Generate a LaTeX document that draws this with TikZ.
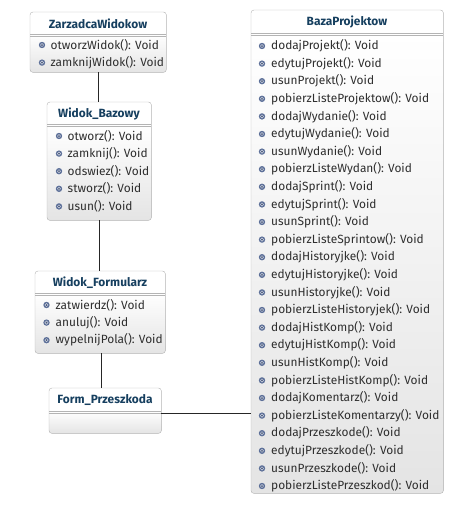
\documentclass[tikz,border=0pt]{standalone}
\usepackage{fontspec}
\setmainfont{Fira Sans}
\definecolor{boxgray}{HTML}{B4B4B4}
\definecolor{boxfill}{HTML}{E4E4E4}
\definecolor{titleblue}{HTML}{163F5F}
\definecolor{optext}{HTML}{2E2E2E}
\definecolor{iconblue}{HTML}{5C6F98}

\begin{document}
\begin{tikzpicture}[x=1pt, y=-1pt, every node/.style={font=\fontsize{11.9}{13}\selectfont},
    classbox/.style={anchor=north west, inner sep=0pt, fill=white},
    classname/.style={text=titleblue, font=\fontsize{11.9}{13}\selectfont\bfseries},
    op/.style={anchor=west, inner sep=0pt, text=optext},
    link/.style={draw=black!85, line width=0.8pt}]
  \useasboundingbox (0,0) rectangle (454,507);
  % class boxes: name/left/top/width/height/divider
  \foreach \id/\xa/\ya/\w/\h/\yd/\t in {
      zw/30/12/136/60/34/ZarzadcaWidokow,
      wb/47/102/104/118/124/Widok\_Bazowy,
      wf/35/271/130/82/293/Widok\_Formularz,
      fp/49/388/112/45/411/Form\_Przeszkoda,
      bp/251/10/192/483/33/BazaProjektow} {
    \node[classbox, minimum width=\w, minimum height=\h] (\id) at (\xa,\ya) {};
    \begin{scope}
      \clip[rounded corners=3pt] (\id.north west) rectangle (\id.south east);
      \shade[top color=white, bottom color=boxfill] (\xa,\yd) rectangle (\id.south east);
    \end{scope}
    \draw[boxgray] (\xa,\yd) -- ++(\w,0);
    \draw[boxgray] (\xa,\yd+2) -- ++(\w,0);
    \draw[boxgray, rounded corners=3pt] (\id.north west) rectangle (\id.south east);
    \node[classname] at ({\xa+\w/2},{(\ya+\yd)/2+0.5}) {\t};
  }
  % operations
  \foreach \op [count=\i] in {otworzWidok, zamknijWidok}
    \node[op] at (50.5,{45+17.6*(\i-1)}) {\op(): Void};
  \foreach \op [count=\i] in {otworz, zamknij, odswiez, stworz, usun}
    \node[op] at (67.5,{136+17.6*(\i-1)}) {\op(): Void};
  \foreach \op [count=\i] in {zatwierdz, anuluj, wypelnijPola}
    \node[op] at (55.5,{305+17.6*(\i-1)}) {\op(): Void};
  \foreach \op [count=\i] in {dodajProjekt, edytujProjekt, usunProjekt,
      pobierzListeProjektow, dodajWydanie, edytujWydanie, usunWydanie,
      pobierzListeWydan, dodajSprint, edytujSprint, usunSprint,
      pobierzListeSprintow, dodajHistoryjke, edytujHistoryjke, usunHistoryjke,
      pobierzListeHistoryjek, dodajHistKomp, edytujHistKomp, usunHistKomp,
      pobierzListeHistKomp, dodajKomentarz, pobierzListeKomentarzy,
      dodajPrzeszkode, edytujPrzeszkode, usunPrzeszkode, pobierzListePrzeszkod}
    \node[op] at (271,{46+17.6*(\i-1)}) {\op(): Void};
  % icons
  \foreach \x/\y/\n in {42/45/2, 59/136/5, 46.5/305/3, 262/46/26}
    \foreach \k in {1,...,\n} {
      \fill[iconblue] (\x,{\y+17.6*(\k-1)}) circle (3.2pt);
      \fill[white!70!iconblue] (\x,{\y+17.6*(\k-1)}) circle (1.9pt);
      \fill[iconblue!80!black] (\x,{\y+17.6*(\k-1)}) circle (1pt);
    }
  % connectors
  \draw[link] (zw.south) -- (zw.south |- wb.north);
  \draw[link] (wb.south) -- (wb.south |- wf.north);
  \draw[link] ([xshift=1pt]wf.south) -- ([xshift=1pt]wf.south |- fp.north);
  \draw[link] ([yshift=-3pt]fp.east) -- ([yshift=-3pt]fp.east -| bp.west);
\end{tikzpicture}
\end{document}
